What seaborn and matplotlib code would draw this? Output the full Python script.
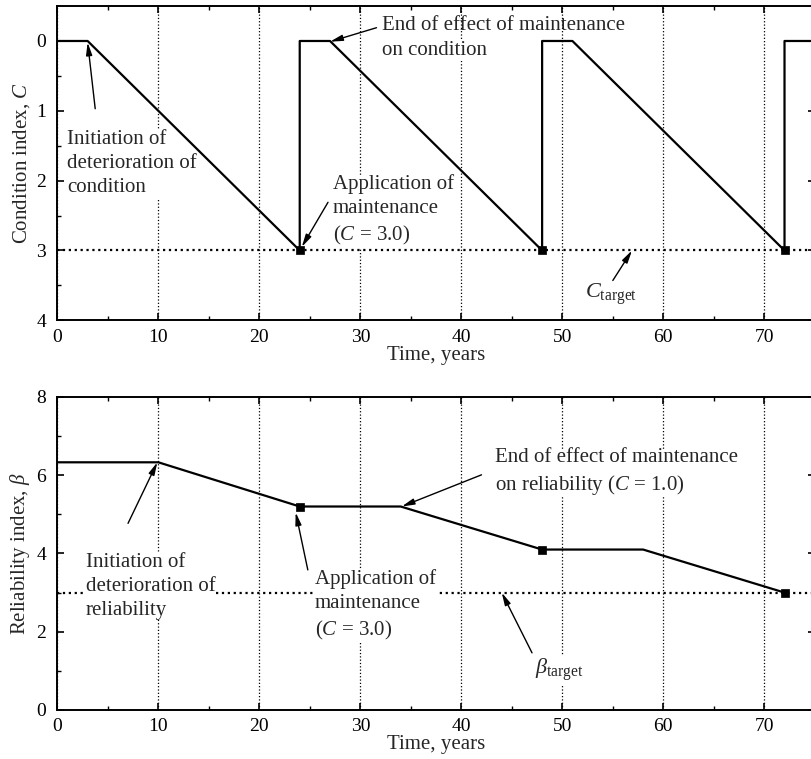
import numpy as np
import pandas as pd
import matplotlib
matplotlib.use('Agg')
import matplotlib.pyplot as plt
import seaborn as sns

# condition profile (jumps at maintenance times)
cond_t = [0, 3, 24, 24, 27, 48, 48, 51, 72, 72, 75]
cond_c = [0, 0, 3, 0, 0, 3, 0, 0, 3, 0, 0]
# reliability profile
rel_t = [0, 10, 24, 34, 48, 58, 72]
rel_b = [6.33, 6.33, 5.2, 5.2, 4.1, 4.1, 3.0]
# maintenance applications
maint_t = [24, 48, 72]
maint_c = [3.0, 3.0, 3.0]
maint_b = [5.2, 4.1, 3.0]
c_target = 3.0
b_target = 3.0

sns.set_style('ticks', {'xtick.direction': 'in', 'ytick.direction': 'in',
                        'xtick.top': True, 'ytick.right': True})
plt.rcParams['font.family'] = ['Liberation Serif', 'DejaVu Serif']
plt.rcParams['mathtext.fontset'] = 'custom'
plt.rcParams['mathtext.rm'] = 'Liberation Serif'
plt.rcParams['mathtext.it'] = 'Liberation Serif:italic'
plt.rcParams['axes.edgecolor'] = 'k'
plt.rcParams['axes.linewidth'] = 1.4
plt.rcParams['xtick.color'] = 'k'
plt.rcParams['ytick.color'] = 'k'

fs = 15      # annotation / label text
fs_tick = 14

fig = plt.figure(figsize=(8.11, 7.59), dpi=100)
ax1 = fig.add_axes([0.0707, 0.578, 0.934, 0.414])
ax2 = fig.add_axes([0.0707, 0.0646, 0.934, 0.4124])

df_c = pd.DataFrame({'t': cond_t, 'c': cond_c})
df_b = pd.DataFrame({'t': rel_t, 'b': rel_b})
df_m = pd.DataFrame({'t': maint_t, 'c': maint_c, 'b': maint_b})

box = dict(facecolor='white', edgecolor='none', pad=0.5)
arr = dict(arrowstyle='-|>,head_length=0.75,head_width=0.18', color='k', lw=1.0,
           shrinkA=0, shrinkB=0)


def note(ax, x, y, s, boxed=True, **kw):
    ax.text(x, y, s, fontsize=kw.pop('size', fs), va=kw.pop('va', 'top'), ha='left',
            bbox=box if boxed else None, zorder=2, linespacing=1.35, **kw)


# ---- top: condition index
ax1.axhline(c_target, color='k', ls=':', lw=1.6, zorder=1)
sns.lineplot(data=df_c, x='t', y='c', estimator=None, sort=False, color='k', lw=1.6, ax=ax1, zorder=3)
sns.scatterplot(data=df_m, x='t', y='c', marker='s', color='k', s=40, edgecolor='k', ax=ax1, zorder=4)
ax1.set_xlim(0, 75)
ax1.set_ylim(4, -0.5)
ax1.set_xticks(np.arange(0, 71, 10))
ax1.set_xticks(np.arange(5, 75, 10), minor=True)
ax1.set_yticks([0, 1, 2, 3, 4])
ax1.set_yticks([0.5, 1.5, 2.5, 3.5], minor=True)
ax1.set_xlabel('Time, years', fontsize=fs, labelpad=0)
ax1.set_ylabel('Condition index, $C$', fontsize=fs, labelpad=3)

ax1.annotate('', xy=(3, 0.02), xytext=(3.75, 0.97), arrowprops=arr)
note(ax1, 0.96, 1.28, 'Initiation of\ndeterioration of\ncondition')
ax1.annotate('', xy=(27, 0.01), xytext=(31.6, -0.19), arrowprops=arr)
note(ax1, 32.1, -0.36, 'End of effect of maintenance', boxed=False)
note(ax1, 32.1, 0.0, 'on condition')
ax1.annotate('', xy=(24.2, 2.95), xytext=(26.8, 2.31), arrowprops=arr)
note(ax1, 27.3, 1.91, 'Application of\nmaintenance\n($C$ = 3.0)')
ax1.annotate('', xy=(56.9, 3.0), xytext=(55.0, 3.43), arrowprops=arr)
note(ax1, 52.2, 3.62, r'$C_{\rm target}$', va='center', size=fs + 1)

# ---- bottom: reliability index
ax2.axhline(b_target, color='k', ls=':', lw=1.6, zorder=1)
sns.lineplot(data=df_b, x='t', y='b', estimator=None, sort=False, color='k', lw=1.6, ax=ax2, zorder=3)
sns.scatterplot(data=df_m, x='t', y='b', marker='s', color='k', s=40, edgecolor='k', ax=ax2, zorder=4)
ax2.set_xlim(0, 75)
ax2.set_ylim(0, 8)
ax2.set_xticks(np.arange(0, 71, 10))
ax2.set_xticks(np.arange(5, 75, 10), minor=True)
ax2.set_yticks([0, 2, 4, 6, 8])
ax2.set_yticks([1, 3, 5, 7], minor=True)
ax2.set_xlabel('Time, years', fontsize=fs, labelpad=0)
ax2.set_ylabel(r'Reliability index, $\beta$', fontsize=fs, labelpad=3)

ax2.annotate('', xy=(9.9, 6.33), xytext=(7.0, 4.77), arrowprops=arr)
note(ax2, 2.84, 4.01, 'Initiation of\ndeterioration of\nreliability')
ax2.annotate('', xy=(23.6, 5.05), xytext=(24.8, 3.58), arrowprops=arr)
note(ax2, 25.5, 3.60, 'Application of\nmaintenance\n($C$ = 3.0)')
ax2.annotate('', xy=(34.1, 5.2), xytext=(42.0, 6.01), arrowprops=arr)
note(ax2, 43.3, 6.70, 'End of effect of maintenance\non reliability ($C$ = 1.0)')
ax2.annotate('', xy=(44.0, 3.0), xytext=(47.0, 1.46), arrowprops=arr)
note(ax2, 47.3, 1.02, r'$\beta_{\rm target}$', va='center', size=fs + 1)

for ax in (ax1, ax2):
    ax.grid(axis='x', which='major', color='k', ls=':', lw=0.9, zorder=0)
    ax.tick_params(which='major', length=5, width=1.2, labelsize=fs_tick)
    ax.tick_params(axis='x', which='major', pad=6)
    ax.tick_params(axis='y', which='major', pad=8)
    ax.tick_params(which='minor', length=3, width=1.0)
    ax.tick_params(top=True, right=True, which='both')

plt.savefig('out.png', dpi=100)
